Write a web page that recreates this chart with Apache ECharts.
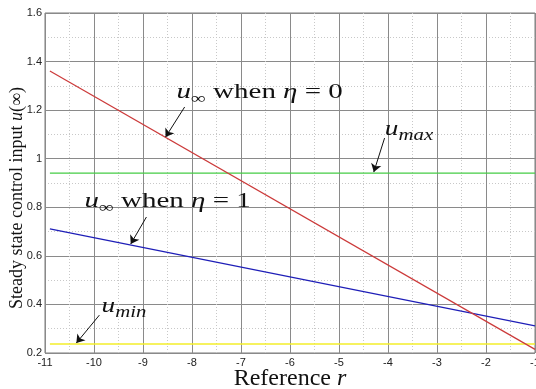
<!DOCTYPE html>
<html>
<head>
<meta charset="utf-8">
<script src="https://cdn.jsdelivr.net/npm/echarts@6/dist/echarts.min.js"></script>
<style>
  html, body { margin: 0; padding: 0; background: #fff; }
  #chart { width: 536px; height: 389px; }
</style>
</head>
<body>
<div id="chart"></div>
<script>
// Reference value r on the horizontal axis (line end points)
const rValues = [-10.9, -1];
// Steady state control input u(inf) for eta = 0 and eta = 1
const uInfEta0 = [1.361, 0.215];
const uInfEta1 = [0.711, 0.312];
// Input limits
const uMax = [0.941, 0.941];
const uMin = [0.237, 0.237];
// Axis ticks
const xTicks = [-11, -10, -9, -8, -7, -6, -5, -4, -3, -2, -1];
const yTicks = [0.2, 0.4, 0.6, 0.8, 1, 1.2, 1.4, 1.6];

const SERIF = '"Liberation Serif", "Times New Roman", serif';
const SANS = '"Liberation Sans", Arial, sans-serif';

function pairs(xs, ys) { return xs.map((x, i) => [x, ys[i]]); }

// Arrows pointing from each label to its curve (data coordinates)
const arrows = [
  [[-8.15, 1.213], [-8.54, 1.089]],
  [[-8.93, 0.760], [-9.25, 0.649]],
  [[-4.07, 1.085], [-4.29, 0.945]],
  [[-9.89, 0.356], [-10.36, 0.241]]
];

const chart = echarts.init(document.getElementById('chart'), null, { renderer: 'canvas' });

const majorLine = { show: true, lineStyle: { color: '#8a8a8a', width: 1, type: 'solid' } };
const minorLine = { show: true, lineStyle: { color: '#c8c8c8', width: 1, type: [1, 2] } };

function lineSeries(name, data, color, width) {
  return {
    name, type: 'line', data, showSymbol: false, symbol: 'none',
    lineStyle: { color, width: width || 1.2 }, silent: true, animation: false, z: 3
  };
}

const series = [
  lineSeries('umin', pairs(rValues, uMin), '#f3ee2a', 1.6),
  lineSeries('umax', pairs(rValues, uMax), '#45cc45', 1.3),
  lineSeries('eta1', pairs(rValues, uInfEta1), '#1f1fb8', 1.3),
  lineSeries('eta0', pairs(rValues, uInfEta0), '#cc3a3a', 1.2)
];
series[1].markLine = {
  silent: true, animation: false,
  symbol: ['none', 'arrow'], symbolSize: 8,
  label: { show: false },
  lineStyle: { color: '#111', width: 1, type: 'solid' },
  emphasis: { disabled: true },
  data: arrows.map(a => [{ coord: a[0] }, { coord: a[1] }])
};

chart.setOption({
  animation: false,
  backgroundColor: '#fff',
  grid: {
    left: 45, right: 1, top: 13, bottom: 36, outerBoundsMode: 'none', containLabel: false,
    show: true, borderColor: '#7a7a7a', borderWidth: 1, backgroundColor: 'transparent'
  },
  xAxis: {
    type: 'value', min: xTicks[0], max: xTicks[xTicks.length - 1], interval: 1,
    axisLine: { show: false }, axisTick: { show: false },
    axisLabel: { color: '#222', fontFamily: SANS, fontSize: 11, margin: 4 },
    splitLine: majorLine,
    minorTick: { show: false, splitNumber: 2 },
    minorSplitLine: minorLine,
    name: '{t|Reference }{i|r}', nameLocation: 'middle', nameGap: 14, nameMoveOverlap: false,
    nameTextStyle: {
      rich: {
        t: { fontFamily: SERIF, fontSize: 24, color: '#111' },
        i: { fontFamily: SERIF, fontSize: 24, fontStyle: 'italic', color: '#111' }
      }
    }
  },
  yAxis: {
    type: 'value', min: yTicks[0], max: yTicks[yTicks.length - 1], interval: 0.2,
    axisLine: { show: false }, axisTick: { show: false },
    axisLabel: { color: '#222', fontFamily: SANS, fontSize: 11, margin: 3 },
    splitLine: majorLine,
    minorTick: { show: false, splitNumber: 2 },
    minorSplitLine: minorLine,
    name: '{t|Steady state control input }{i|u}{t|(∞)}', nameLocation: 'middle', nameGap: 19, nameMoveOverlap: false,
    nameTextStyle: {
      padding: [0, 30, 0, 0],
      rich: {
        t: { fontFamily: SERIF, fontSize: 18, color: '#111' },
        i: { fontFamily: SERIF, fontSize: 18, fontStyle: 'italic', color: '#111' }
      }
    }
  },
  series
});

// Curve labels with subscripts, laid out piece by piece
const measureCtx = document.createElement('canvas').getContext('2d');
function fontStr(p) { return (p.italic ? 'italic ' : '') + p.size + 'px ' + SERIF; }
function labelGroup(anchor, pieces, stretch) {
  const px = chart.convertToPixel({ gridIndex: 0 }, anchor);
  let x = 0;
  const children = pieces.map(p => {
    measureCtx.font = fontStr(p);
    const w = measureCtx.measureText(p.t).width;
    const el = {
      type: 'text', x: x, y: (p.sub ? 5 : 0) + p.size * 0.22,
      style: { text: p.t, font: fontStr(p), fill: '#111', verticalAlign: 'bottom', align: 'left' }
    };
    x += w;
    return el;
  });
  return { type: 'group', x: px[0], y: px[1], scaleX: stretch, children, silent: true };
}

const uInf = [{ t: 'u', italic: true, size: 21 }, { t: '∞', size: 15, sub: true }];
chart.setOption({
  graphic: [
    labelGroup([-8.314, 1.250], uInf.concat([{ t: ' when ', size: 21 }, { t: 'η', italic: true, size: 21 }, { t: ' = 0', size: 21 }]), 1.38),
    labelGroup([-10.193, 0.801], uInf.concat([{ t: ' when ', size: 21 }, { t: 'η', italic: true, size: 21 }, { t: ' = 1', size: 21 }]), 1.38),
    labelGroup([-4.064, 1.098], [{ t: 'u', italic: true, size: 21 }, { t: 'max', italic: true, size: 16, sub: true }], 1.3),
    labelGroup([-9.846, 0.369], [{ t: 'u', italic: true, size: 21 }, { t: 'min', italic: true, size: 16, sub: true }], 1.3)
  ]
});
</script>
</body>
</html>
